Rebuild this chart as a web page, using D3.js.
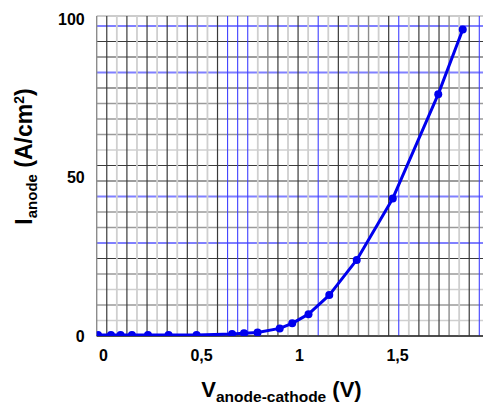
<!DOCTYPE html>
<html>
<head>
<meta charset="utf-8">
<script src="https://cdn.jsdelivr.net/npm/d3@7"></script>
<style>
  html, body { margin: 0; padding: 0; background: #fff; }
  svg { display: block; }
  text { font-family: "Liberation Sans", Arial, Helvetica, sans-serif; font-weight: bold; }
</style>
</head>
<body>
<svg id="chart" width="483" height="403"></svg>
<script>
// ---- data ----
const voltage = [0, 0.066, 0.115, 0.173, 0.255, 0.36, 0.503, 0.684, 0.745, 0.814, 0.927, 0.991, 1.074, 1.18, 1.32, 1.504, 1.736, 1.861];
const current = [0.3, 0.3, 0.3, 0.3, 0.3, 0.3, 0.3, 0.6, 0.85, 1.1, 2.4, 4.0, 6.9, 12.9, 24.0, 43.4, 76.3, 96.7];
const xTicks = [0, 0.5, 1, 1.5, 2];
const xTickLabels = ["0", "0,5", "1", "1,5", "2"];
const yTicks = [0, 50, 100];
const yTickLabels = ["0", "50", "100"];
// graph-paper background line shades (D dark, G gray, L light, B blue)
const vGridShades = ["G","D","L","D","L","D","L","D","L","D","G","L","D","B","B","B","L","G","D","L","D","L","B","L","D","L","G","G","L","D","B","L","D","G","D","G","L","D","B"];
const hGridShades = ["D","L","G","L","G","D","B","G","G","B","D","D","L","G","G","G","D","B","D","D","B"];

// ---- layout ----
const svg = d3.select("#chart");
const plotLeft = 96.7, plotRight = 483, plotTop = 16, plotBottom = 336;

const x = d3.scaleLinear().domain([0, 2]).range([98, 490]);
const y = d3.scaleLinear().domain([0, 100]).range([336, 19]);
const gx = d3.scaleLinear().domain([0, vGridShades.length - 1]).range([96.7, 479.3]);
const gy = d3.scaleLinear().domain([0, hGridShades.length - 1]).range([336, 26]);

const vStyle = {
  D: {c: "#3a3a3a", w: 1.2},
  G: {c: "#8c8c8c", w: 1.4},
  L: {c: "#cfcfcf", w: 1.8},
  B: {c: "#4040ff", w: 1.1}
};
const hStyle = {
  D: {c: "#3a3a3a", w: 1.2},
  G: {c: "#9a9a9a", w: 1.4},
  L: {c: "#cfcfcf", w: 1.6},
  B: {c: "#8080ff", w: 1.8}
};

const grid = svg.append("g");
// top edge of the paper
grid.append("line")
  .attr("x1", plotLeft).attr("x2", plotRight)
  .attr("y1", plotTop).attr("y2", plotTop)
  .attr("stroke", "#9a9a9a").attr("stroke-width", 1.2);

grid.selectAll("line.h").data(hGridShades).join("line")
  .attr("class", "h")
  .attr("x1", plotLeft).attr("x2", plotRight)
  .attr("y1", (d, i) => gy(i)).attr("y2", (d, i) => gy(i))
  .attr("stroke", d => hStyle[d].c).attr("stroke-width", d => hStyle[d].w);

grid.selectAll("line.v").data(vGridShades).join("line")
  .attr("class", "v")
  .attr("x1", (d, i) => gx(i)).attr("x2", (d, i) => gx(i))
  .attr("y1", plotTop).attr("y2", plotBottom)
  .attr("stroke", d => vStyle[d].c).attr("stroke-width", d => vStyle[d].w);

// bottom axis line
grid.append("line")
  .attr("x1", plotLeft).attr("x2", plotRight)
  .attr("y1", plotBottom).attr("y2", plotBottom)
  .attr("stroke", "#333").attr("stroke-width", 1.3);

// ---- clip ----
svg.append("defs").append("clipPath").attr("id", "clip")
  .append("rect")
  .attr("x", plotLeft).attr("y", plotTop)
  .attr("width", plotRight - plotLeft).attr("height", plotBottom - plotTop);

const pts = voltage.map((v, i) => [v, current[i]]);
const plot = svg.append("g").attr("clip-path", "url(#clip)");
plot.append("path")
  .datum(pts)
  .attr("fill", "none")
  .attr("stroke", "#0000ee")
  .attr("stroke-width", 3)
  .attr("stroke-linejoin", "round")
  .attr("d", d3.line().x(d => x(d[0])).y(d => y(d[1])));
plot.selectAll("circle").data(pts).join("circle")
  .attr("cx", d => x(d[0])).attr("cy", d => y(d[1]))
  .attr("r", 4)
  .attr("fill", "#0000ee");

// ---- axes ----
const xAxis = d3.axisBottom(x).tickValues(xTicks)
  .tickFormat((d, i) => xTickLabels[i]).tickSize(0).tickPadding(14);
const gX = svg.append("g").attr("transform", `translate(0,${plotBottom})`).call(xAxis);
gX.select(".domain").remove();
gX.selectAll("text")
  .attr("dx", 5)
  .attr("fill", "#000")
  .style("font-family", '"Liberation Sans", Arial, sans-serif')
  .style("font-weight", "bold")
  .style("font-size", "16px");

const yAxis = d3.axisLeft(y).tickValues(yTicks)
  .tickFormat((d, i) => yTickLabels[i]).tickSize(0).tickPadding(12);
const gY = svg.append("g").attr("transform", `translate(${plotLeft},0)`).call(yAxis);
gY.select(".domain").remove();
gY.selectAll("text")
  .attr("fill", "#000")
  .style("font-family", '"Liberation Sans", Arial, sans-serif')
  .style("font-weight", "bold")
  .style("font-size", "16px");

// ---- titles ----
const xt = svg.append("text")
  .attr("x", 281.5).attr("y", 397)
  .attr("text-anchor", "middle")
  .style("font-size", "22px");
xt.append("tspan").text("V");
xt.append("tspan").attr("dy", 5).style("font-size", "15.5px").text("anode-cathode");
xt.append("tspan").attr("dy", -5).text(" (V)");

const yt = svg.append("text")
  .attr("transform", "translate(31.5,156.5) rotate(-90)")
  .attr("text-anchor", "middle")
  .style("font-size", "23px");
yt.append("tspan").text("I");
yt.append("tspan").attr("dy", 5).style("font-size", "15px").text("anode");
yt.append("tspan").attr("dy", -5).text(" (A/cm");
yt.append("tspan").attr("dy", -8).style("font-size", "14px").text("2");
yt.append("tspan").attr("dy", 8).text(")");
</script>
</body>
</html>
